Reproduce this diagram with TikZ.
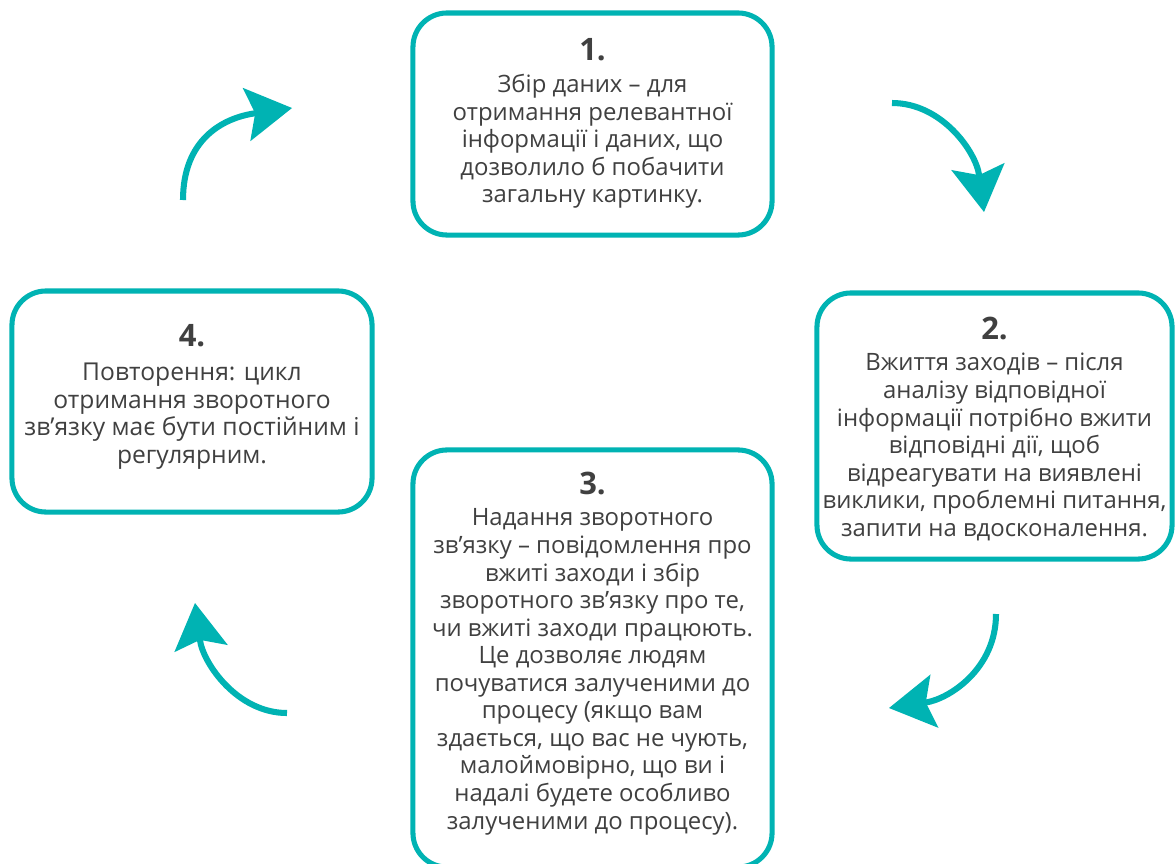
\documentclass[tikz,border=0pt]{standalone}
\usepackage{fontspec}
\setmainfont{Open Sans}
\usepackage{tikz}
\usetikzlibrary{arrows.meta, positioning}

\definecolor{cycteal}{HTML}{00B3B3}
\definecolor{cyctext}{HTML}{404040}

\tikzset{
    stage/.style={draw=cycteal, line width=3.6pt, rounded corners=0.85cm,
        inner sep=0pt},
    stagetext/.style={align=center, text=cyctext, inner sep=0pt, anchor=north,
        font=\fontsize{17}{19.6}\selectfont},
    cycarrow/.style={draw=cycteal, line width=4.3pt,
        -{Stealth[length=1.15cm, width=1.35cm, inset=0.22cm, line width=0pt]}}
}
\newcommand{\stepno}[1]{{\bfseries\fontsize{22}{24}\selectfont #1}}

\begin{document}
\begin{tikzpicture}[x=0.025cm, y=-0.025cm]
    \fill[white] (0, 0) rectangle (1176, 863);
    \useasboundingbox (0, 0) rectangle (1176, 863);

    % Step boxes
    \node[stage, minimum width=8.975cm, minimum height=5.55cm] (s1) at (592.5, 124) {};
    \node[stage, minimum width=8.875cm, minimum height=6.65cm] (s2) at (994.5, 426) {};
    \node[stage, minimum width=8.975cm, minimum height=10.425cm] (s3) at (592.5, 658.5) {};
    \node[stage, minimum width=9cm, minimum height=5.525cm] (s4) at (192, 401.5) {};

    % Step 1: collecting data
    \node[stagetext, below=0.7cm of s1.north] (t1)
        {\stepno{1.}\\[3pt]
         Збір даних – для\\
         отримання релевантної\\
         інформації і даних, що\\
         дозволило б побачити\\
         загальну картинку.};

    % Step 2: taking action
    \node[stagetext, below=0.65cm of s2.north] (t2)
        {\stepno{2.}\\[3pt]
         Вжиття заходів – після\\
         аналізу відповідної\\
         інформації потрібно вжити\\
         відповідні дії, щоб\\
         відреагувати на виявлені\\
         виклики, проблемні питання,\\
         запити на вдосконалення.};

    % Step 3: giving feedback (box runs off the bottom)
    \node[stagetext, below=0.6cm of s3.north] (t3)
        {\stepno{3.}\\[3pt]
         Надання зворотного\\
         зв’язку – повідомлення про\\
         вжиті заходи і збір\\
         зворотного зв’язку про те,\\
         чи вжиті заходи працюють.\\
         Це дозволяє людям\\
         почуватися залученими до\\
         процесу (якщо вам\\
         здається, що вас не чують,\\
         малоймовірно, що ви і\\
         надалі будете особливо\\
         залученими до процесу).};

    % Step 4: repeating
    \node[stagetext, below=0.9cm of s4.north,
          font=\fontsize{17.5}{19.8}\selectfont] (t4)
        {\stepno{4.}\\[4pt]
         Повторення: цикл\\
         отримання зворотного\\
         зв’язку має бути постійним і\\
         регулярним.};

    % Cycle arrows
    \coordinate (a1s) at (183, 200);  \coordinate (a1e) at (292, 108);
    \coordinate (a2s) at (892, 103);  \coordinate (a2e) at (984, 212);
    \coordinate (a3s) at (996, 614);  \coordinate (a3e) at (889, 708);
    \coordinate (a4s) at (287, 713);  \coordinate (a4e) at (195, 603);

    \draw[cycarrow] (a1s) .. controls +(0, -60) and +(-70, 10) .. (a1e);
    \draw[cycarrow] (a2s) .. controls +(50, 0) and +(-8, -60) .. (a2e);
    \draw[cycarrow] (a3s) .. controls +(0, 55) and +(60, -9) .. (a3e);
    \draw[cycarrow] (a4s) .. controls +(-50, 0) and +(8, 60) .. (a4e);
\end{tikzpicture}
\end{document}
